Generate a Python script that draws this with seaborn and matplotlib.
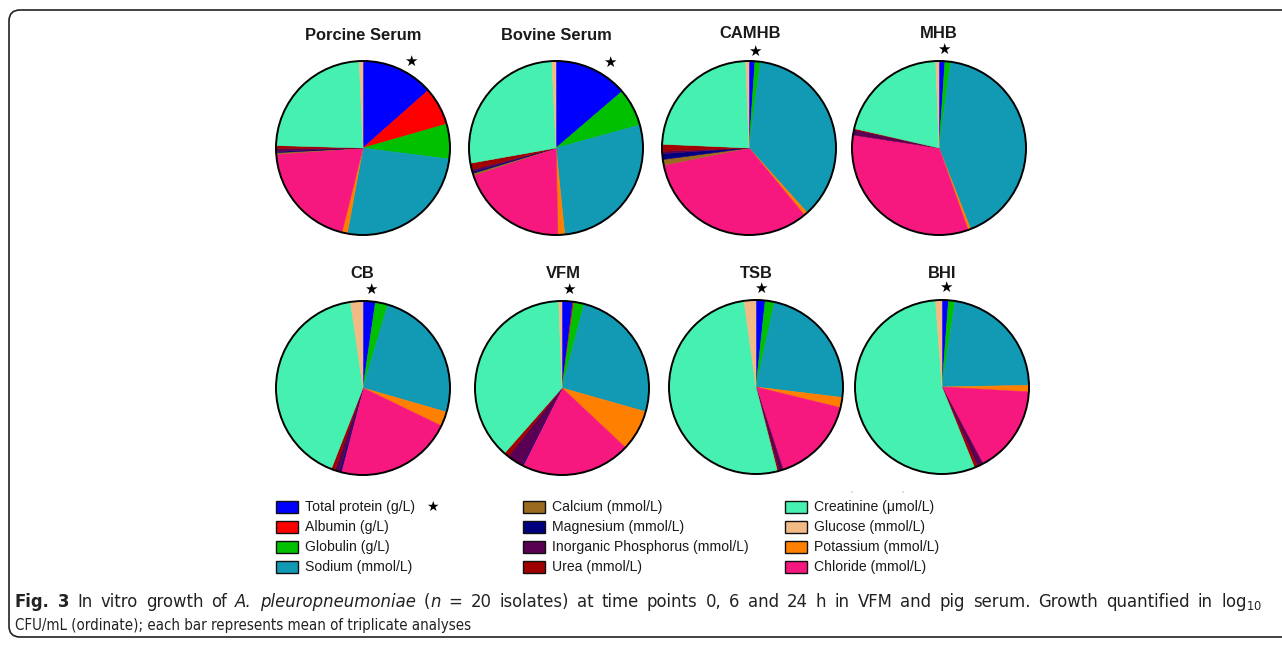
import matplotlib
matplotlib.use("Agg")
import matplotlib.pyplot as plt
import seaborn as sns
from matplotlib.patches import Circle, Rectangle, FancyBboxPatch

# ---------------- data ----------------
categories = ["Total protein (g/L)", "Albumin (g/L)", "Globulin (g/L)", "Sodium (mmol/L)",
              "Potassium (mmol/L)", "Chloride (mmol/L)", "Calcium (mmol/L)", "Magnesium (mmol/L)",
              "Inorganic Phosphorus (mmol/L)", "Urea (mmol/L)", "Creatinine (\u03bcmol/L)",
              "Glucose (mmol/L)"]
colors_hex = ["#0000FF", "#FF0000", "#00C000", "#1299B4",
              "#FF8000", "#F7187F", "#9A6A20", "#00007E",
              "#5A0052", "#A00000", "#46F0B0", "#F2BA84"]

media = ["Porcine Serum", "Bovine Serum", "CAMHB", "MHB", "CB", "VFM", "TSB", "BHI"]
porcine = [13.5, 7.1, 6.5, 25.9, 1.0, 20.0, 0.3, 0.2, 0.5, 0.6, 23.9, 0.7]
bovine  = [13.7, 0.0, 7.0, 27.6, 1.25, 20.2, 0.4, 0.3, 0.4, 1.2, 27.0, 0.75]
camhb   = [1.1, 0.0, 1.0, 36.2, 0.7, 32.8, 1.05, 1.1, 0.4, 1.3, 23.7, 0.6]
mhb     = [1.1, 0.0, 1.05, 41.9, 0.5, 32.8, 0.0, 0.0, 1.0, 0.2, 20.8, 0.6]
cb      = [2.3, 0.0, 2.3, 24.9, 2.7, 21.9, 0.0, 0.3, 0.9, 0.7, 41.8, 2.3]
vfm     = [2.0, 0.2, 1.9, 25.3, 7.6, 20.4, 0.0, 0.2, 3.0, 0.9, 37.9, 0.6]
tsb     = [1.7, 0.0, 1.7, 23.5, 1.9, 16.1, 0.0, 0.0, 0.8, 0.3, 51.7, 2.2]
bhi     = [1.2, 0.0, 1.2, 22.3, 1.2, 16.3, 0.0, 0.0, 1.1, 0.6, 54.9, 1.2]
values = [porcine, bovine, camhb, mhb, cb, vfm, tsb, bhi]

legend_columns = [
    ["Total protein (g/L)", "Albumin (g/L)", "Globulin (g/L)", "Sodium (mmol/L)"],
    ["Calcium (mmol/L)", "Magnesium (mmol/L)", "Inorganic Phosphorus (mmol/L)", "Urea (mmol/L)"],
    ["Creatinine (\u03bcmol/L)", "Glucose (mmol/L)", "Potassium (mmol/L)", "Chloride (mmol/L)"],
]

# ---------------- layout (pixels) ----------------
W, H = 1282, 645
PT = 72.0 / 100.0  # points per pixel
pie_geom = [(363, 148, 87), (556, 148, 87), (749, 148, 87), (939, 148, 87),
            (363, 388, 87), (562, 388, 87), (756, 387, 87), (942, 387, 87)]
title_pos = [(363, 35), (556, 35), (750, 34), (939, 34),
             (362, 273), (563, 273), (756, 273), (942, 273)]
star_pos = [(411, 61), (610, 62), (755, 51), (944, 49),
            (371, 289), (569, 289), (761, 288), (946, 287)]

sns.set_theme(style="white")
palette = sns.color_palette(colors_hex)
color_of = dict(zip(categories, palette))
plt.rcParams["font.family"] = ["Liberation Sans", "DejaVu Sans"]
plt.rcParams["mathtext.fontset"] = "dejavusans"

fig = plt.figure(figsize=(W / 100, H / 100), dpi=100)
fig.patch.set_facecolor("white")

ax0 = fig.add_axes([0, 0, 1, 1])
ax0.set_xlim(0, W)
ax0.set_ylim(H, 0)
ax0.axis("off")

# frame
frame = FancyBboxPatch((9, 10), 1320, 627, boxstyle="round,pad=0,rounding_size=11",
                       fill=False, ec="#222222", lw=1.2)
ax0.add_patch(frame)

# ---------------- pies ----------------
pad = 1.04
for name, vals, (cx, cy, r), (tx, ty), (sx, sy) in zip(media, values, pie_geom, title_pos, star_pos):
    ax = fig.add_axes([(cx - r * pad) / W, 1 - (cy + r * pad) / H, 2 * r * pad / W, 2 * r * pad / H])
    wedges, _ = ax.pie(vals, colors=palette, startangle=90, counterclock=False, radius=1,
                       wedgeprops=dict(linewidth=0))
    for w, v in zip(wedges, vals):
        if v > 0:
            w.set_edgecolor(w.get_facecolor())
            w.set_linewidth(0.4)
    ax.add_patch(Circle((0, 0), 1, fill=False, ec="black", lw=1.4, zorder=5))
    ax.set_xlim(-pad, pad)
    ax.set_ylim(-pad, pad)
    ax.set_aspect("equal")
    ax.axis("off")
    ax0.text(tx, ty, name, ha="center", va="center", fontsize=16.5 * PT, weight="bold",
             color="#1a1a1a")
    ax0.text(sx, sy, "\u2605", ha="center", va="center", fontsize=15 * PT, color="black",
             family=["DejaVu Sans"])

# ---------------- legend ----------------
col_x = [276, 523, 785]
row_y = [507, 527, 547, 567]
for cx, col in zip(col_x, legend_columns):
    for ry, lab in zip(row_y, col):
        ax0.add_patch(Rectangle((cx, ry - 6), 22, 12, facecolor=color_of[lab],
                                edgecolor="#111111", lw=1.0))
        ax0.text(cx + 29, ry, lab, ha="left", va="center", fontsize=14 * PT,
                 color="#1a1a1a")
ax0.text(432, 507, "\u2605", ha="center", va="center", fontsize=14 * PT, color="black",
         family=["DejaVu Sans"])
ax0.text(851, 491, ",", ha="center", va="center", fontsize=5, color="#777777")
ax0.text(902, 491, ",", ha="center", va="center", fontsize=5, color="#777777")

# ---------------- caption ----------------
renderer = fig.canvas.get_renderer()
cap_color = "#222222"
R, B, I = {}, {"weight": "bold"}, {"style": "italic"}
line1 = [("Fig.", B, False), ("3", B, True), ("In", R, True), ("vitro", R, True),
         ("growth", R, True), ("of", R, True), ("A.", I, True), ("pleuropneumoniae", I, True),
         ("(", R, True), ("n", I, False), ("=", R, True), ("20", R, True), ("isolates)", R, True),
         ("at", R, True), ("time", R, True), ("points", R, True), ("0,", R, True), ("6", R, True),
         ("and", R, True), ("24", R, True), ("h", R, True), ("in", R, True), ("VFM", R, True),
         ("and", R, True), ("pig", R, True), ("serum.", R, True), ("Growth", R, True),
         ("quantified", R, True), ("in", R, True), ("log$_{10}$", R, True)]
x0, x1, yb1 = 15, 1262, 607
texts, widths = [], []
for s, st, _ in line1:
    t = ax0.text(0, yb1, s, ha="left", va="baseline", fontsize=16.5 * PT, color=cap_color,
                 family=["DejaVu Sans"], **st)
    texts.append(t)
    widths.append(t.get_window_extent(renderer).width)
n_gaps = sum(1 for _, _, sp in line1 if sp)
gap = (x1 - x0 - sum(widths)) / n_gaps
x = x0
for t, w, (_, _, sp) in zip(texts, widths, line1):
    if sp:
        x += gap
    t.set_x(x)
    x += w
ax0.text(x0, 630, "CFU/mL (ordinate); each bar represents mean of triplicate analyses",
         ha="left", va="baseline", fontsize=15 * PT, color=cap_color,
         family=["DejaVu Sans"], fontstretch="condensed")

fig.savefig("out.png", dpi=100, facecolor="white")
